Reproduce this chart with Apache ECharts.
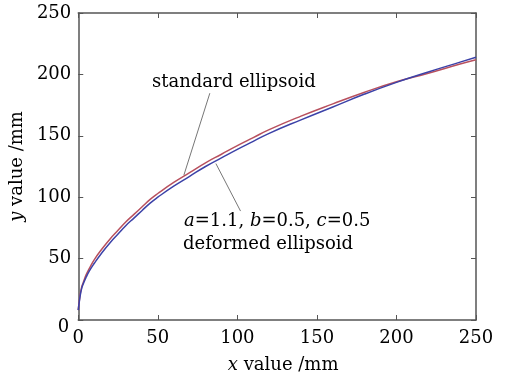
<!DOCTYPE html>
<html>
<head>
<meta charset="utf-8">
<script src="https://cdn.jsdelivr.net/npm/echarts@6/dist/echarts.min.js"></script>
<style>html,body{margin:0;padding:0;background:#fff;}#c{width:513px;height:379px;}</style>
</head>
<body>
<div id="c"></div>
<script>
const xValues = [0, 1, 2, 3, 5, 7, 10, 15, 20, 25, 30, 35, 40, 45, 50, 60, 70, 80, 90, 100, 110, 120, 140, 160, 180, 200, 220, 240, 250];
const standardY = [8, 19, 26, 30, 37, 42, 49, 58, 66, 73, 80, 86, 92, 98, 103, 112, 120, 128, 135, 142, 148.5, 155, 166, 176, 185.5, 194, 201, 208.5, 212];
const deformedY = [8, 18, 25, 29, 35, 40, 46, 55, 63, 70, 77, 83, 89, 95, 100, 109, 117, 125, 132, 139, 145.5, 152, 163, 173.5, 184, 193.5, 202, 210, 214];
const xTicks = [0, 50, 100, 150, 200, 250];
const yTicks = [0, 50, 100, 150, 200, 250];
// leader lines (data coordinates)
const leaderStd = [[82.7, 184.7], [66.4, 118]];
const leaderDef = [[86.5, 127.4], [102, 88.7]];

const FONT = 'DejaVu Serif';
const FS = 18;
const TXT = '#000';
const AX = '#555';
const chart = echarts.init(document.getElementById('c'));
const pair = (xs, ys) => xs.map((x, i) => [x, ys[i]]);

const baseX = {
  type: 'value', min: xTicks[0], max: xTicks[xTicks.length - 1], interval: xTicks[1] - xTicks[0],
  axisLine: { show: true, onZero: false, lineStyle: { color: AX, width: 1.5 } },
  axisTick: { show: true, inside: true, length: 5, lineStyle: { color: AX } },
  splitLine: { show: false }
};
const baseY = Object.assign({}, baseX, {
  min: yTicks[0], max: yTicks[yTicks.length - 1], interval: yTicks[1] - yTicks[0]
});
chart.setOption({
  animation: false,
  backgroundColor: '#fff',
  grid: { left: 77, right: 37, top: 13, bottom: 56 },
  xAxis: [
    Object.assign({}, baseX, {
      position: 'bottom',
      name: '{i|x} value /mm', nameLocation: 'middle', nameGap: 36,
      nameTextStyle: { fontFamily: FONT, fontSize: FS, color: TXT, padding: [0, 0, 0, 12],
        rich: { i: { fontFamily: FONT, fontStyle: 'italic', fontSize: FS, color: TXT } } },
      axisLabel: { fontFamily: FONT, fontSize: FS, color: TXT, margin: 9 }
    }),
    Object.assign({}, baseX, { position: 'top', axisLabel: { show: false } })
  ],
  yAxis: [
    Object.assign({}, baseY, {
      position: 'left',
      name: '{i|y} value /mm', nameLocation: 'middle', nameGap: 50,
      nameTextStyle: { fontFamily: FONT, fontSize: FS, color: TXT,
        rich: { i: { fontFamily: FONT, fontStyle: 'italic', fontSize: FS, color: TXT } } },
      axisLabel: { fontFamily: FONT, fontSize: FS, color: TXT, margin: 7,
        formatter: v => v === 0 ? '{z|0}' : String(v),
        rich: { z: { fontFamily: FONT, fontSize: FS, color: TXT, padding: [14, 2, 0, 0] } } }
    }),
    Object.assign({}, baseY, { position: 'right', axisLabel: { show: false } })
  ],
  series: [
    {
      name: 'standard ellipsoid', type: 'line', data: pair(xValues, standardY),
      smooth: true, showSymbol: false, lineStyle: { color: '#b8505e', width: 1.5 },
      markLine: { silent: true, symbol: 'none', label: { show: false },
        lineStyle: { color: '#777', width: 1, type: 'solid' },
        data: [[{ coord: leaderStd[0] }, { coord: leaderStd[1] }]] }
    },
    {
      name: 'deformed ellipsoid', type: 'line', data: pair(xValues, deformedY),
      smooth: true, showSymbol: false, lineStyle: { color: '#3c42a8', width: 1.5 },
      markLine: { silent: true, symbol: 'none', label: { show: false },
        lineStyle: { color: '#777', width: 1, type: 'solid' },
        data: [[{ coord: leaderDef[0] }, { coord: leaderDef[1] }]] }
    }
  ],
  graphic: [
    { type: 'text', left: 152, top: 73, silent: true,
      style: { text: 'standard ellipsoid', fontFamily: FONT, fontSize: FS, fill: TXT } },
    { type: 'text', left: 184, top: 212, silent: true,
      style: { text: '{i|a}=1.1, {i|b}=0.5, {i|c}=0.5', fontFamily: FONT, fontSize: FS, fill: TXT,
        rich: { i: { fontFamily: FONT, fontStyle: 'italic', fontSize: FS, fill: TXT } } } },
    { type: 'text', left: 183, top: 235, silent: true,
      style: { text: 'deformed ellipsoid', fontFamily: FONT, fontSize: FS, fill: TXT } }
  ]
});
</script>
</body>
</html>
